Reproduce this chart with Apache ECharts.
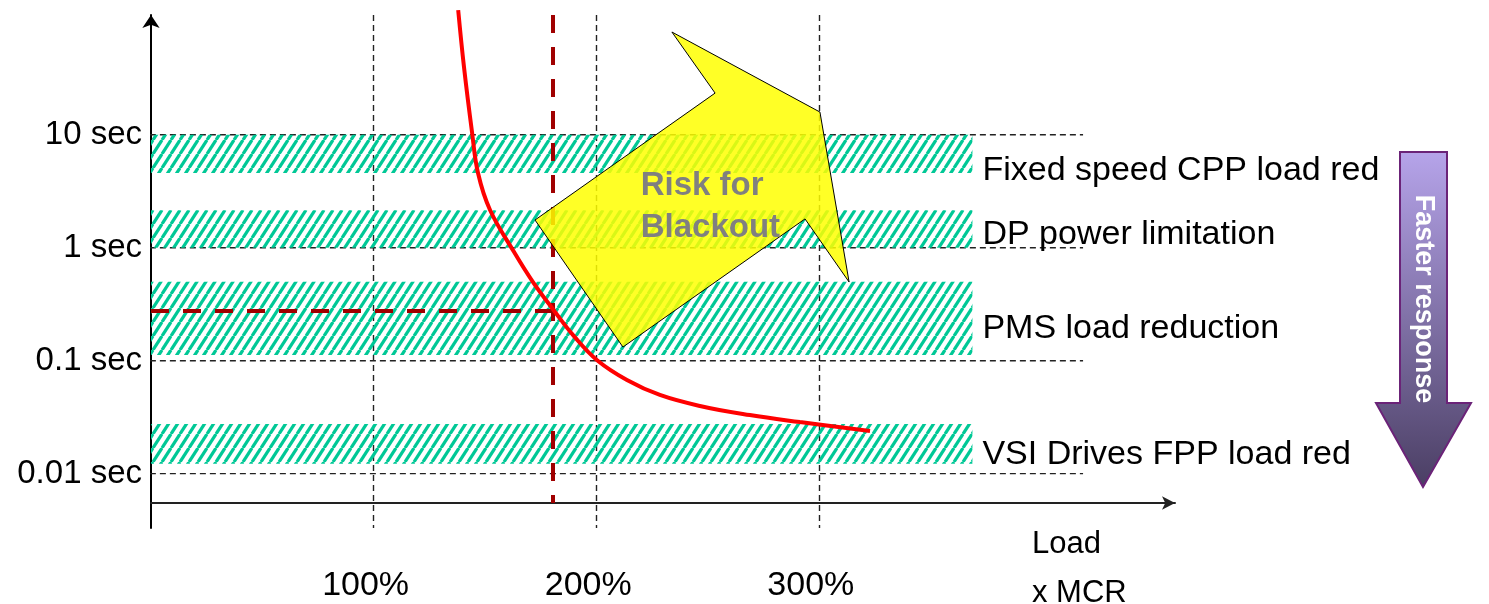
<!DOCTYPE html>
<html><head><meta charset="utf-8">
<script src="https://cdn.jsdelivr.net/npm/echarts@6/dist/echarts.min.js"></script>
<style>html,body{margin:0;padding:0;background:#fff}#c{width:1489px;height:604px}</style>
</head><body><div id="c"></div>
<script>
// ---------------- data ----------------
const loadPct     = [138, 140.6, 144.2, 146.9, 152.3, 163.1, 171.6, 181.5, 190, 200.4, 213.8, 228.6, 246.6, 269, 291.5, 323];
const responseSec = [127, 39.8, 10.6, 4.59, 2.16, 0.917, 0.497, 0.27, 0.165, 0.101, 0.0675, 0.0497, 0.0397, 0.033, 0.0286, 0.0238];

const bandNames = ['Fixed speed CPP load red', 'DP power limitation', 'PMS load reduction', 'VSI Drives FPP load red'];
const bandLow   = [4.6, 1, 0.112, 0.0122];
const bandHigh  = [10, 2.15, 0.5, 0.0275];
const bandLoadEnd = 369;

const yTickValues = [0.01, 0.1, 1, 10];
const yTickLabels = ['0.01 sec', '0.1 sec', '1 sec', '10 sec'];
const xTickValues = [100, 200, 300];
const xTickLabels = ['100%', '200%', '300%'];

const operatingLoad = 180.6;
const operatingTime = 0.275;

const arrowLoad = [172.5, 253.4, 234.0, 300.5, 313.6, 293.8, 212.0];
const arrowTime = [1.76, 23.4, 81.3, 15.9, 0.497, 1.80, 0.132];
const arrowText = 'Risk for\nBlackout';
const arrowTextAt = [220, 2.3];

const xAxisTitle = 'Load\nx MCR';
const sideArrowText = 'Faster response';

// ---------------- axis ranges ----------------
const xMin = 0, xMax = 460;
const yMin = 0.0033, yMax = 115;
const xAxisCross = 0.0055;      // where the x axis line sits
const gridLineFrom = -5, gridLineTo = 418.7;

// ---------------- styles ----------------
const FONT = '"Liberation Sans", Arial, sans-serif';
const bandLabelOffsets = [17, 6, 10, 11];
const GRID_STYLE = { color: '#222', width: 1.4, type: [6, 4] };

function hatch() {
  const W = 9, H = 14;
  const c = document.createElement('canvas');
  c.width = W; c.height = H;
  const g = c.getContext('2d');
  g.strokeStyle = '#00c896';
  g.lineWidth = 3.2;
  for (let k = -1; k <= 1; k++) {
    g.beginPath();
    g.moveTo(k * W, H);
    g.lineTo(k * W + W, 0);
    g.stroke();
  }
  return c;
}
const hatchPattern = { image: hatch(), repeat: 'repeat' };

function yLabel(v) {
  for (let i = 0; i < yTickValues.length; i++) {
    if (Math.abs(Math.log10(v) - Math.log10(yTickValues[i])) < 1e-6) return yTickLabels[i];
  }
  return '';
}
function xLabel(v) {
  const i = xTickValues.indexOf(v);
  return i >= 0 ? xTickLabels[i] : '';
}

const curveData = loadPct.map((x, i) => [x, responseSec[i]]);

const hGridSeries = yTickValues.map(v => ({
  name: 'grid ' + v, type: 'line', silent: true, clip: false, z: 1,
  symbol: 'none', showSymbol: false,
  data: [[gridLineFrom, v], [gridLineTo, v]],
  lineStyle: GRID_STYLE
}));
const gridV = xTickValues.map(v => [{ coord: [v, yMax] }, { coord: [v, yMin] }]);

const bandAreas = bandNames.map((n, i) => [
  { name: n, coord: [0, bandHigh[i]], label: { offset: [0, bandLabelOffsets[i]] } },
  { coord: [bandLoadEnd, bandLow[i]] }
]);

const chart = echarts.init(document.getElementById('c'), null, { renderer: 'canvas' });
chart.setOption({
  animation: false,
  backgroundColor: '#fff',
  grid: { left: 151, right: 314, top: 15, bottom: 76, containLabel: false, outerBoundsMode: 'none' },
  xAxis: {
    type: 'value', min: xMin, max: xMax, interval: 100,
    offset: -25,
    axisLine: { show: true, onZero: false, symbol: ['none', 'arrow'], symbolSize: [10, 13], lineStyle: { color: '#222', width: 2 } },
    axisTick: { show: false },
    splitLine: { show: false },
    axisLabel: { show: true, formatter: xLabel, margin: 66, fontSize: 34, fontFamily: FONT, color: '#000',
      padding: [0, 16, 0, 0], showMinLabel: false, showMaxLabel: false }
  },
  yAxis: {
    type: 'log', logBase: 10, min: yMin, max: yMax,
    axisLine: { show: true, onZero: false, symbol: ['none', 'arrow'], symbolSize: [13, 13], lineStyle: { color: '#000', width: 2 } },
    axisTick: { show: false },
    splitLine: { show: false },
    minorTick: { show: false },
    axisLabel: { show: true, formatter: yLabel, margin: 9, fontSize: 33, fontFamily: FONT, color: '#000',
      showMinLabel: false, showMaxLabel: false }
  },
  series: hGridSeries.concat([
    {
      name: 'vgrid', type: 'line', data: [], silent: true, clip: false,
      markLine: {
        silent: true, symbol: ['none', 'none'], z: 1, animation: false,
        label: { show: false },
        lineStyle: GRID_STYLE,
        data: gridV
      }
    },
    {
      name: 'bands', type: 'line', data: [], silent: true, clip: false,
      markArea: {
        silent: true, z: 2, animation: false,
        itemStyle: { color: hatchPattern, borderWidth: 0 },
        label: { show: true, position: 'right', distance: 10, fontSize: 34, fontFamily: FONT, color: '#000' },
        data: bandAreas
      }
    },
    {
      name: 'operating point', type: 'line', data: [], silent: true, clip: false,
      markLine: {
        silent: true, symbol: ['none', 'none'], z: 3, animation: false,
        label: { show: false },
        lineStyle: { color: '#a00000', width: 4, type: [18, 14] },
        data: [
          [{ coord: [0, operatingTime] }, { coord: [operatingLoad, operatingTime] }],
          [{ coord: [operatingLoad, yMax] }, { coord: [operatingLoad, xAxisCross] }]
        ]
      }
    },
    {
      name: 'curve', type: 'line', data: curveData, z: 4, clip: false,
      smooth: 0.4, showSymbol: false, symbol: 'none',
      lineStyle: { color: '#ff0000', width: 4 }
    },
    {
      name: 'risk', type: 'custom', z: 6, clip: false, silent: true,
      data: [[arrowTextAt[0], arrowTextAt[1]]],
      renderItem: function (params, api) {
        const pts = arrowLoad.map((x, i) => api.coord([x, arrowTime[i]]));
        const tp = api.coord(arrowTextAt);
        return {
          type: 'group',
          children: [
            { type: 'polygon', shape: { points: pts },
              style: { fill: 'rgba(255,255,0,0.85)', stroke: '#000', lineWidth: 1 } },
            { type: 'text', x: tp[0], y: tp[1],
              style: { text: arrowText, fill: '#808080', font: 'bold 33px ' + FONT,
                       align: 'left', verticalAlign: 'middle', lineHeight: 42 } }
          ]
        };
      }
    }
  ]),
  graphic: [
    {
      type: 'polygon', z: 10,
      shape: { points: [[1400, 152], [1447, 152], [1447, 403], [1471, 403], [1423, 487], [1376, 403], [1400, 403]] },
      style: {
        fill: { type: 'linear', x: 0, y: 0, x2: 0, y2: 1,
                colorStops: [{ offset: 0, color: '#b6a4ea' }, { offset: 1, color: '#4a3e63' }] },
        stroke: '#6b2378', lineWidth: 2
      }
    },
    {
      type: 'text', z: 11, x: 1423, y: 299, rotation: -Math.PI / 2,
      style: { text: sideArrowText, fill: '#fff', font: 'bold 27px ' + FONT, align: 'center', verticalAlign: 'middle' }
    },
    {
      type: 'text', z: 11, x: 1032, y: 520,
      style: { text: xAxisTitle, fill: '#000', font: '31px ' + FONT, align: 'left', verticalAlign: 'top', lineHeight: 49 }
    }
  ]
});
</script>
</body></html>
